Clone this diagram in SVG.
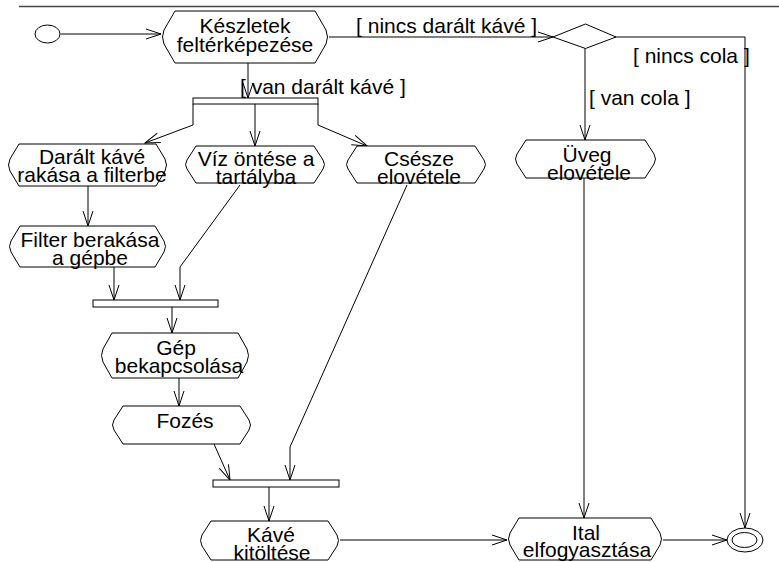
<svg xmlns="http://www.w3.org/2000/svg" width="779" height="562" viewBox="0 0 779 562">
<defs>
<style>
.n{fill:#fff;stroke:#000;stroke-width:1}
.t{font-family:"Liberation Sans",Arial,sans-serif;font-size:21px;fill:#000;text-anchor:middle}
.l{font-family:"Liberation Sans",Arial,sans-serif;font-size:21px;fill:#000}
.c{fill:none;stroke:#000;stroke-width:1;marker-end:url(#ah)}
.bar{fill:#fff;stroke:#000;stroke-width:1}
</style>
<marker id="ah" markerUnits="userSpaceOnUse" markerWidth="20" markerHeight="14" viewBox="-16 -7 18 14" refX="0" refY="0" orient="auto">
<path d="M-15,-5 L0,0 L-15,5" fill="none" stroke="#000" stroke-width="1"/>
</marker>
</defs>
<rect width="779" height="562" fill="#fff"/>
<line x1="19" y1="6.5" x2="779" y2="6.5" stroke="#444" stroke-width="1.5"/>

<g id="connectors">
<path class="c" d="M60.5,34 H161"/>
<path class="c" d="M248,63 V98"/>
<path class="c" d="M329,37 H553"/>
<path class="c" d="M585,48 V140"/>
<path class="c" d="M615,37 H745 V528"/>
<path class="c" d="M193,104 V125 L145,143"/>
<path class="c" d="M255,104 V146"/>
<path class="c" d="M318,104 V125 L367,146"/>
<path class="c" d="M88,186 V226"/>
<path class="c" d="M114,267 V300"/>
<path class="c" d="M240,185 L180,267 V300"/>
<path class="c" d="M172,307 V333"/>
<path class="c" d="M179,378 V406"/>
<path class="c" d="M214,444 L230,480"/>
<path class="c" d="M407,185 L290,447 V480"/>
<path class="c" d="M269,487 V521"/>
<path class="c" d="M584,178 V518"/>
<path class="c" d="M340,540 H507"/>
<path class="c" d="M663,540 H727"/>
<text class="l" x="240" y="94">[ van darált kávé ]</text>
<text class="l" x="537" y="33" text-anchor="end">[ nincs darált kávé ]</text>
<text class="l" x="589" y="105">[ van cola ]</text>
<text class="l" x="633" y="63">[ nincs cola ]</text>
</g>

<g id="start"><ellipse cx="47.5" cy="34" rx="12.5" ry="9" fill="#fff" stroke="#000"/></g>

<g id="keszletek">
<path class="n" d="M175,11 H315 L326,30 Q329,37 326,44 L315,63 H175 L164,44 Q161,37 164,30 Z"/>
<text class="t" x="245" y="33">Készletek</text>
<text class="t" x="245" y="51.5">feltérképezése</text>
</g>

<g id="dontes"><polygon points="553,37 585.5,24 616,37 585.5,48.5" fill="#fff" stroke="#000"/></g>

<g id="fork1"><rect class="bar" x="193" y="98" width="125" height="6"/></g>

<g id="daralt">
<path class="n" d="M19,144 H156 L165,159 Q168,165 165,171 L156,186 H19 L10,171 Q7,165 10,159 Z"/>
<text class="t" x="92" y="164">Darált kávé</text>
<text class="t" x="92" y="182">rakása a filterbe</text>
</g>

<g id="viz">
<path class="n" d="M196,146 H314 L323,160 Q326,164.5 323,169 L314,183 H196 L187,169 Q184,164.5 187,160 Z"/>
<text class="t" x="256" y="166">Víz öntése a</text>
<text class="t" x="256" y="184">tartályba</text>
</g>

<g id="csesze">
<path class="n" d="M357,146 H475 L484,160 Q487,164.5 484,169 L475,183 H357 L348,169 Q345,164.5 348,160 Z"/>
<text class="t" x="419" y="166">Csésze</text>
<text class="t" x="419" y="184">elovétele</text>
</g>

<g id="uveg">
<path class="n" d="M526,140 H645 L654,154 Q657,159 654,164 L645,178 H526 L517,164 Q514,159 517,154 Z"/>
<text class="t" x="587" y="162">Üveg</text>
<text class="t" x="589" y="180">elovétele</text>
</g>

<g id="filter">
<path class="n" d="M20,226 H155 L164,241 Q167,246.5 164,252 L155,267 H20 L11,252 Q8,246.5 11,241 Z"/>
<text class="t" x="90" y="247">Filter berakása</text>
<text class="t" x="90" y="265">a gépbe</text>
</g>

<g id="fork2"><rect class="bar" x="93" y="300" width="125" height="7"/></g>

<g id="gep">
<path class="n" d="M112,333 H238 L247,349 Q250,355.5 247,362 L238,378 H112 L103,362 Q100,355.5 103,349 Z"/>
<text class="t" x="176" y="355">Gép</text>
<text class="t" x="179" y="373">bekapcsolása</text>
</g>

<g id="fozes">
<path class="n" d="M123,406 H240 L249,420 Q252,425 249,430 L240,444 H123 L114,430 Q111,425 114,420 Z"/>
<text class="t" x="185" y="428">Fozés</text>
</g>

<g id="fork3"><rect class="bar" x="213" y="480" width="126" height="7"/></g>

<g id="kave">
<path class="n" d="M211,521 H328 L337,535 Q340,540.5 337,546 L328,560 H211 L202,546 Q199,540.5 202,535 Z"/>
<text class="t" x="271" y="542">Kávé</text>
<text class="t" x="272" y="560">kitöltése</text>
</g>

<g id="ital">
<path class="n" d="M519,518 H651 L660,533 Q663,539 660,545 L651,560 H519 L510,545 Q507,539 510,533 Z"/>
<text class="t" x="586" y="540">Ital</text>
<text class="t" x="587" y="557">elfogyasztása</text>
</g>

<g id="end">
<ellipse cx="745" cy="540" rx="18" ry="12" fill="#fff" stroke="#000"/>
<ellipse cx="744.5" cy="540" rx="12.5" ry="7.5" fill="none" stroke="#000"/>
</g>
</svg>
